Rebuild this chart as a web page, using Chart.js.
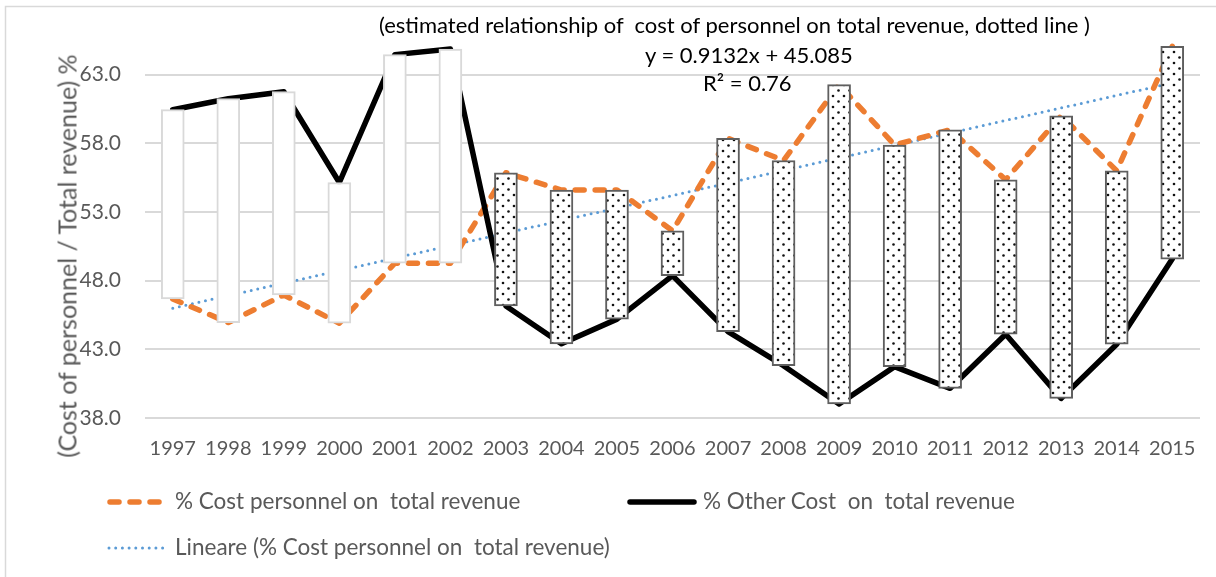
<!DOCTYPE html>
<html>
<head>
<meta charset="utf-8">
<script src="https://cdn.jsdelivr.net/npm/chart.js@4.4.1/dist/chart.umd.min.js"></script>
<style>
html,body{margin:0;padding:0;background:#fff;}
#wrap{position:relative;width:1216px;height:577px;overflow:hidden;font-family:Lato,"Open Sans",sans-serif;}
#c{position:absolute;left:0;top:0;}
.t{position:absolute;white-space:pre;line-height:1;margin:0;}
.ann{color:#000;font-size:22px;}
.leg{color:#595959;font-size:22.5px;}
#ytitle{position:absolute;left:67px;top:256px;transform:translate(-50%,-50%) rotate(-90deg);white-space:pre;color:#595959;font-size:25px;line-height:1;}
svg.sw{position:absolute;left:0;top:0;}
</style>
</head>
<body>
<div id="wrap">
  <canvas id="c" width="1216" height="577"></canvas>
  <div id="ytitle">(Cost of personnel / Total revenue) %</div>
  <div class="t ann" style="left:379px;top:14px;">(estimated relationship of  cost of personnel on total revenue, dotted line )</div>
  <div class="t ann" style="left:645px;top:43.5px;">y = 0.9132x + 45.085</div>
  <div class="t ann" style="left:703px;top:72px;">R² = 0.76</div>
  <svg class="sw" width="1216" height="577">
    <line x1="110" y1="502" x2="160" y2="502" stroke="#ED7D31" stroke-width="5.5" stroke-linecap="round" stroke-dasharray="9 11"/>
    <line x1="630" y1="502" x2="694" y2="502" stroke="#000" stroke-width="5.5" stroke-linecap="round"/>
    <line x1="109" y1="548" x2="166" y2="548" stroke="#5B9BD5" stroke-width="3" stroke-linecap="round" stroke-dasharray="0 6.7"/>
  </svg>
  <div class="t leg" style="left:175px;top:489.5px;">% Cost personnel on  total revenue</div>
  <div class="t leg" style="left:703px;top:489.5px;">% Other Cost  on  total revenue</div>
  <div class="t leg" style="left:175px;top:535.5px;">Lineare (% Cost personnel on  total revenue)</div>
</div>
<script>
// ---- data ----
const years = ['1997','1998','1999','2000','2001','2002','2003','2004','2005','2006','2007','2008','2009','2010','2011','2012','2013','2014','2015'];
const personnelPct = [46.67, 44.95, 46.96, 44.90, 49.27, 49.27, 55.86, 54.60, 54.60, 51.63, 58.36, 56.75, 62.27, 57.88, 58.99, 55.35, 60.01, 56.00, 65.06];
const otherPct     = [60.45, 61.25, 61.76, 55.15, 64.46, 64.87, 46.16, 43.40, 45.20, 48.37, 44.29, 41.81, 39.02, 41.74, 40.16, 44.10, 39.43, 43.37, 49.57];
// linear trend of personnel cost: endpoints
const trendLine    = [46.00, null, null, null, null, null, null, null, null, null, null, null, null, null, null, null, null, null, 62.40];
const yMin = 38, yMax = 68, yStep = 5;

const canvas = document.getElementById('c');
const ctx = canvas.getContext('2d');

function dotPattern(){
  const n = 11;
  const t = document.createElement('canvas');
  t.width = n; t.height = n;
  const g = t.getContext('2d');
  g.fillStyle = '#fff'; g.fillRect(0,0,n,n);
  g.fillStyle = '#111';
  [[2.5,2.5],[8,8]].forEach(([x,y])=>{ g.beginPath(); g.arc(x,y,1.3,0,Math.PI*2); g.fill(); });
  return ctx.createPattern(t,'repeat');
}
const pat = dotPattern();

const barRanges = years.map((_,i)=>[Math.min(personnelPct[i],otherPct[i]), Math.max(personnelPct[i],otherPct[i])]);
const isUp = years.map((_,i)=>personnelPct[i] > otherPct[i]);

const frame = {
  id:'frame',
  beforeDraw(chart){
    const c = chart.ctx;
    c.save();
    c.strokeStyle = '#d9d9d9'; c.lineWidth = 1.5;
    c.beginPath(); c.moveTo(5.5,577); c.lineTo(5.5,6.5); c.lineTo(1216,6.5); c.stroke();
    c.restore();
  }
};

new Chart(ctx, {
  data: {
    labels: years,
    datasets: [
      {
        type:'bar', label:'updown', data: barRanges, order:0,
        backgroundColor: isUp.map(u=>u ? pat : '#ffffff'),
        borderColor: isUp.map(u=>u ? '#5f5f5f' : '#d9d9d9'),
        borderWidth: 2, borderSkipped:false, barThickness: 23
      },
      {
        type:'line', label:'% Cost personnel on  total revenue', data: personnelPct, order:2,
        borderColor:'#ED7D31', borderWidth:5.5, borderDash:[9,11], borderCapStyle:'round', borderJoinStyle:'round',
        pointRadius:0, tension:0, fill:false
      },
      {
        type:'line', label:'% Other Cost  on  total revenue', data: otherPct, order:1,
        borderColor:'#000000', borderWidth:5.5, borderCapStyle:'round', borderJoinStyle:'round',
        pointRadius:0, tension:0, fill:false
      },
      {
        type:'line', label:'Lineare (% Cost personnel on  total revenue)', data: trendLine, order:3, spanGaps:true,
        borderColor:'#5B9BD5', borderWidth:3, borderDash:[0,6.7], borderCapStyle:'round',
        pointRadius:0, tension:0, fill:false
      }
    ]
  },
  options: {
    responsive:false, animation:false, devicePixelRatio:1,
    layout:{ padding:{ left:0, right:16, top:6, bottom:0 } },
    plugins:{ legend:{display:false}, tooltip:{enabled:false} },
    scales:{
      x:{
        type:'category', offset:true,
        grid:{ display:false, drawTicks:false },
        border:{ display:false },
        ticks:{ color:'#595959', font:{ family:'Lato', size:20 }, padding:19, maxRotation:0, autoSkip:false },
        afterFit(s){ s.height = 159; s.paddingLeft = 0; s.paddingRight = 0; }
      },
      y:{
        min:yMin, max:yMax,
        grid:{ color:'#d9d9d9', lineWidth:2, drawTicks:false },
        border:{ display:false },
        ticks:{ stepSize:yStep, color:'#595959', font:{ family:'Lato', size:21 }, padding:24,
          callback:(v)=> v >= yMax ? null : Number(v).toFixed(1) },
        afterFit(s){ s.width = 145; s.paddingTop = 0; s.paddingBottom = 0; }
      }
    }
  },
  plugins:[frame]
});
</script>
</body>
</html>
